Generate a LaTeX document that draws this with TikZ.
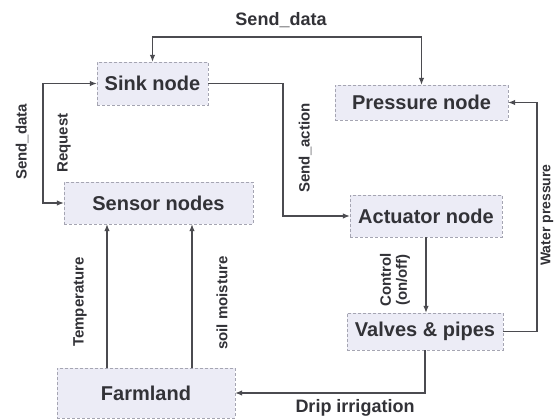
\documentclass[tikz,border=0pt]{standalone}
\usepackage{fontspec}
\setmainfont{Liberation Sans}
\usetikzlibrary{arrows.meta}
\definecolor{boxfill}{RGB}{236,236,246}
\definecolor{boxline}{RGB}{165,165,178}
\definecolor{wirec}{RGB}{75,75,80}
\definecolor{inkc}{RGB}{50,50,55}

\begin{document}
\begin{tikzpicture}[x=1pt, y=-1pt,
        blk/.style={rectangle, draw=boxline, densely dashed, fill=boxfill, inner sep=0pt, text=inkc, font=\fontsize{20}{22}\selectfont\bfseries},
        wire/.style={draw=wirec, line width=1.1pt, >={Latex[length=7pt,width=5.5pt]}},
        vlbl/.style={rotate=90, text=inkc, align=center, font=\fontsize{15}{16}\selectfont\bfseries},
        hlbl/.style={text=inkc, font=\fontsize{18}{20}\selectfont\bfseries}
      ]
        \useasboundingbox (0,0) rectangle (556,419);
        \fill[white] (0,0) rectangle (556,419);
        \node[blk, minimum width=111pt, minimum height=43pt] (sink) at (152.5,83.5) {Sink node};
        \node[blk, minimum width=189pt, minimum height=42pt] (sensor) at (158.5,203) {Sensor nodes};
        \node[blk, minimum width=173pt, minimum height=35pt] (press) at (421.5,102.5) {Pressure node};
        \node[blk, minimum width=152pt, minimum height=42pt] (act) at (426,216) {Actuator node};
        \node[blk, minimum width=156pt, minimum height=37pt] (valve) at (425,331.5) {Valves \& pipes};
        \node[blk, minimum width=178pt, minimum height=50pt] (farm) at (146,393) {Farmland};
        \coordinate (top) at (281,37);
        \coordinate (lft) at (43,140);
        \coordinate (mid) at (283,150);
        \coordinate (rgt) at (537,215);
        \coordinate (t1) at (107,300);
        \coordinate (t2) at (192,300);
        \draw[wire, <->] (sink.north) |- (top) -| (press.north);
        \draw[wire, <->] (sink.west) -| (lft) |- (sensor.west);
        \draw[wire, ->] (sink.east) -| (mid) |- (act.west);
        \draw[wire, ->] (act.south) -- (act.south |- valve.north);
        \draw[wire, ->] (valve.east) -| (rgt) |- (press.east);
        \draw[wire, ->] (valve.south) |- (farm.east);
        \draw[wire, ->] (farm.north -| t1) -- (sensor.south -| t1);
        \draw[wire, ->] (farm.north -| t2) -- (sensor.south -| t2);
        \node[hlbl] (l1) at (281,20) {Send\_data};
        \node[vlbl] (l2) at (22,142) {Send\_data};
        \node[vlbl] (l3) at (64,143) {Request};
        \node[vlbl] (l4) at (305,148) {Send\_action};
        \node[vlbl] (l5) at (395,280) {Control\\(on/off)};
        \node[vlbl, font=\fontsize{14}{15}\selectfont\bfseries] (l6) at (547,215) {Water pressure};
        \node[hlbl] (l7) at (355,408) {Drip irrigation};
        \node[vlbl] (l8) at (80,302) {Temperature};
        \node[vlbl] (l9) at (222,303) {soil moisture};
      \end{tikzpicture}
\end{document}
